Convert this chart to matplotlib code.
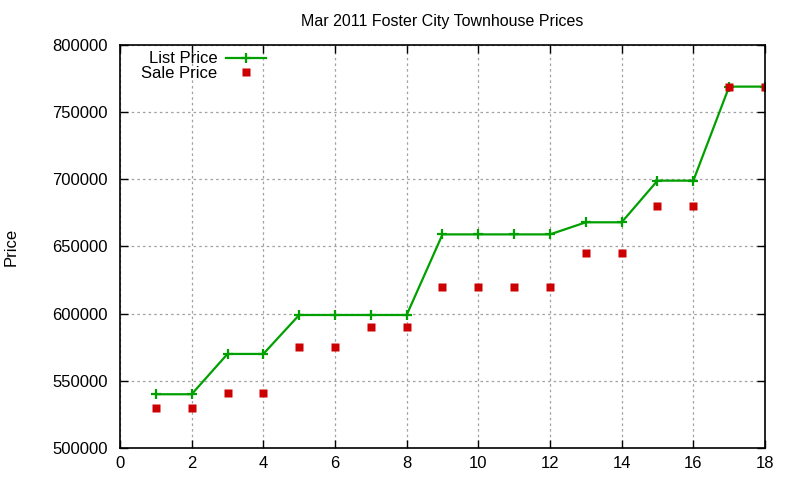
import matplotlib
matplotlib.use("Agg")
import matplotlib.pyplot as plt

plt.rcParams['font.family'] = ['Liberation Sans', 'DejaVu Sans']

# Data
house = [1, 2, 3, 4, 5, 6, 7, 8, 9, 10, 11, 12, 13, 14, 15, 16, 17, 18]
list_price = [540000, 540000, 570000, 570000, 599000, 599000, 599000, 599000,
              659000, 659000, 659000, 659000, 668000, 668000, 699000, 699000,
              769000, 769000]
sale_price = [530000, 530000, 541000, 541000, 575000, 575000, 590000, 590000,
              620000, 620000, 620000, 620000, 645000, 645000, 680000, 680000,
              769000, 769000]

fig = plt.figure(figsize=(8, 4.8), dpi=100)
ax = fig.add_axes([0.15, 0.0667, 0.80625, 0.8396])

ax.plot(house, list_price, color='#00a000', lw=1.6, marker='+', ms=6.5, mew=1.6,
        label='List Price')
ax.plot(house, sale_price, color='#cc0000', ls='none', marker='s', ms=6.2,
        mec='none', label='Sale Price')

ax.set_xlim(0, 18)
ax.set_ylim(500000, 800000)
ax.set_xticks(range(0, 19, 2))
ax.set_yticks(range(500000, 800001, 50000))
ax.ticklabel_format(style='plain', useOffset=False)
ax.tick_params(direction='in', top=True, right=True, labelsize=12, length=6,
               width=1)
ax.tick_params(axis='y', pad=9)
ax.tick_params(axis='x', pad=6)
for s in ax.spines.values():
    s.set_linewidth(1.2)
ax.grid(True, color='#a0a0a0', ls=(0, (2, 2.5)), lw=0.9)

ax.set_title('Mar 2011 Foster City Townhouse Prices', fontsize=11.5, pad=14)
ax.set_ylabel('Price', fontsize=12, labelpad=24)

leg = ax.legend(loc='upper right', bbox_to_anchor=(0.244, 1.013), frameon=False,
                markerfirst=False, fontsize=12, handlelength=2.4,
                handletextpad=0.5, labelspacing=-0.05, borderaxespad=0.3)

fig.savefig('out.png')
